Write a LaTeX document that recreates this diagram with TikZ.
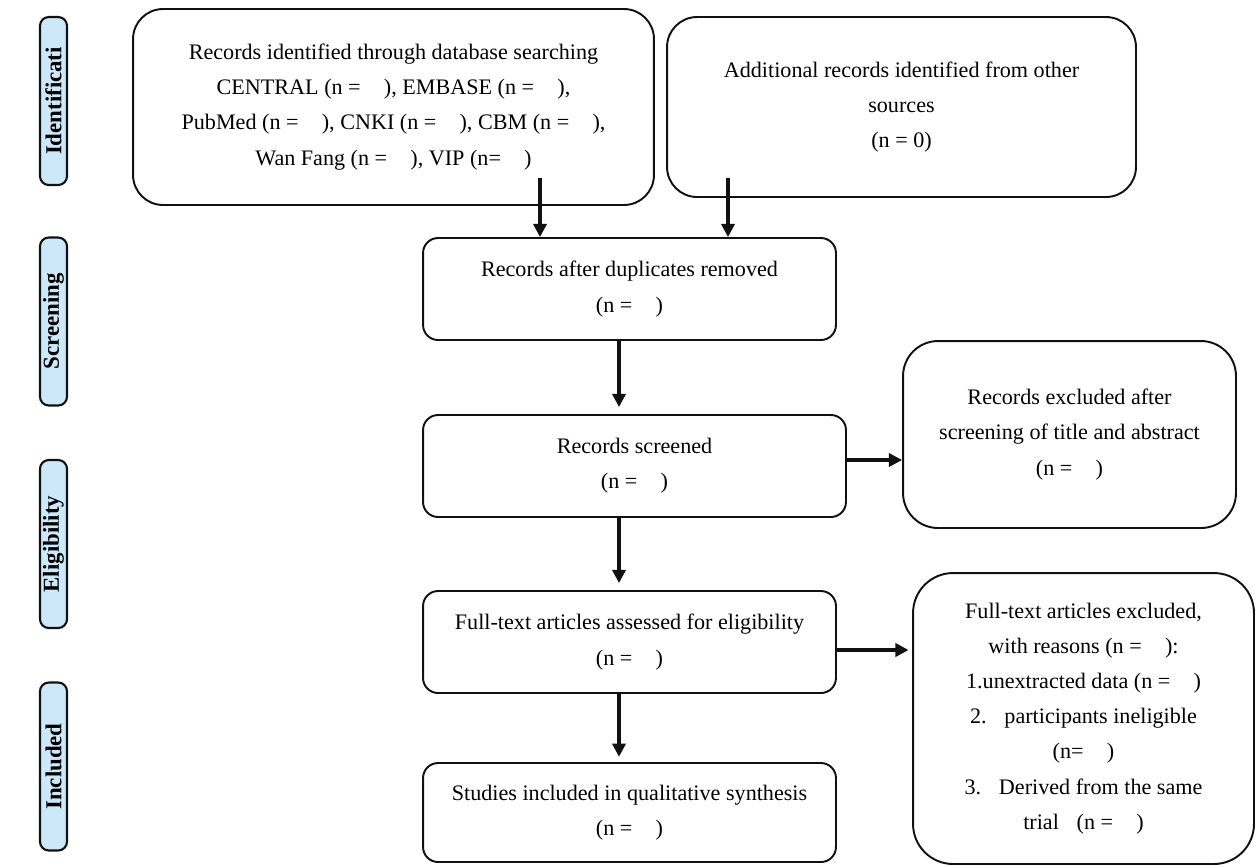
\documentclass[tikz,border=0pt]{standalone}
\usepackage{fontspec}
\setmainfont{Liberation Serif}
\usetikzlibrary{arrows.meta, calc, positioning}
\definecolor{prisma-ink}{HTML}{111111}
\definecolor{prisma-phase}{HTML}{CDE8F9}
\newcommand{\nblank}{\hspace{0.8em}}

\begin{document}
\begin{tikzpicture}[x=0.02cm, y=-0.02cm, line join=round,
    box/.style={draw=prisma-ink, line width=1.1pt, align=center, inner sep=2pt,
      font=\fontsize{12.6}{20}\selectfont},
    phase/.style={draw=prisma-ink, line width=1.2pt, fill=prisma-phase, rounded corners=5pt,
      rotate=90, minimum width=3.36cm, minimum height=0.54cm, inner sep=0pt,
      font=\fontsize{13}{15}\selectfont\bfseries},
    arr/.style={-{Triangle[length=7.5pt, width=7.5pt]}, line width=1.8pt, prisma-ink}]
  \useasboundingbox (0,0) rectangle (1256,867);
  % faser
  \node[phase] (idlab)   at (53.5,101)   {Identificati};
  \node[phase] (scrlab)  at (53.5,321.5) {Screening};
  \node[phase] (eliglab) at (53.5,544)   {Eligibility};
  \node[phase] (inclab)  at (53.5,766.5) {Included};
  % identifikation
  \node[box, rounded corners=0.6cm, minimum width=10.42cm, minimum height=3.92cm]
    (dbsearch) at (393.5,107) {Records identified through database searching\\
      CENTRAL (n = \nblank), EMBASE (n = \nblank),\\
      PubMed (n = \nblank), CNKI (n = \nblank), CBM (n = \nblank),\\
      Wan Fang (n = \nblank), VIP (n= \nblank)};
  \node[box, rounded corners=0.6cm, minimum width=9.38cm, minimum height=3.6cm]
    (othersrc) at (901.5,107) {Additional records identified from other\\
      sources\\ (n = 0)};
  % screening
  \node[box, rounded corners=0.3cm, minimum width=8.26cm, minimum height=2.04cm]
    (dupl) at (629.5,289) {Records after duplicates removed\\ (n = \nblank)};
  \node[box, rounded corners=0.3cm, minimum width=8.46cm, minimum height=2.04cm]
    (screened) at (634.5,466) {Records screened\\ (n = \nblank)};
  \node[box, rounded corners=0.7cm, minimum width=6.66cm, minimum height=3.74cm]
    (exclabs) at (1069.5,434.5) {Records excluded after\\
      screening of title and abstract\\ (n = \nblank)};
  % eligibility
  \node[box, rounded corners=0.3cm, minimum width=8.26cm, minimum height=2.04cm]
    (fulltext) at (629.5,642) {Full-text articles assessed for eligibility\\ (n = \nblank)};
  \node[box, rounded corners=0.8cm, minimum width=6.82cm, minimum height=5.82cm]
    (exclft) at (1083.5,718.5) {Full-text articles excluded,\\
      with reasons (n = \nblank):\\
      1.unextracted data (n = \nblank)\\
      2.\hspace{0.8em}participants ineligible\\
      (n= \nblank)\\
      3.\hspace{0.8em}Derived from the same\\
      trial\hspace{0.8em}(n = \nblank)};
  % included
  \node[box, rounded corners=0.3cm, minimum width=8.26cm, minimum height=1.98cm]
    (included) at (629.5,812.5) {Studies included in qualitative synthesis\\ (n = \nblank)};
  % pile
  \coordinate (dbout) at (540,178);
  \coordinate (othout) at (728,178);
  \coordinate (spine) at (619,0);
  \coordinate (row1) at (0,460);
  \coordinate (row2) at (0,650);
  \draw[arr] (dbout) -- (dbout |- dupl.north);
  \draw[arr] (othout) -- (othout |- dupl.north);
  \draw[arr, shorten >=4pt] (dupl.south -| spine) -- (screened.north -| spine);
  \draw[arr] (screened.east |- row1) -- (exclabs.west |- row1);
  \draw[arr, shorten >=4pt] (screened.south -| spine) -- (fulltext.north -| spine);
  \draw[arr, shorten >=2pt] (fulltext.east |- row2) -- (exclft.west |- row2);
  \draw[arr, shorten >=3pt] (fulltext.south -| spine) -- (included.north -| spine);
\end{tikzpicture}
\end{document}
